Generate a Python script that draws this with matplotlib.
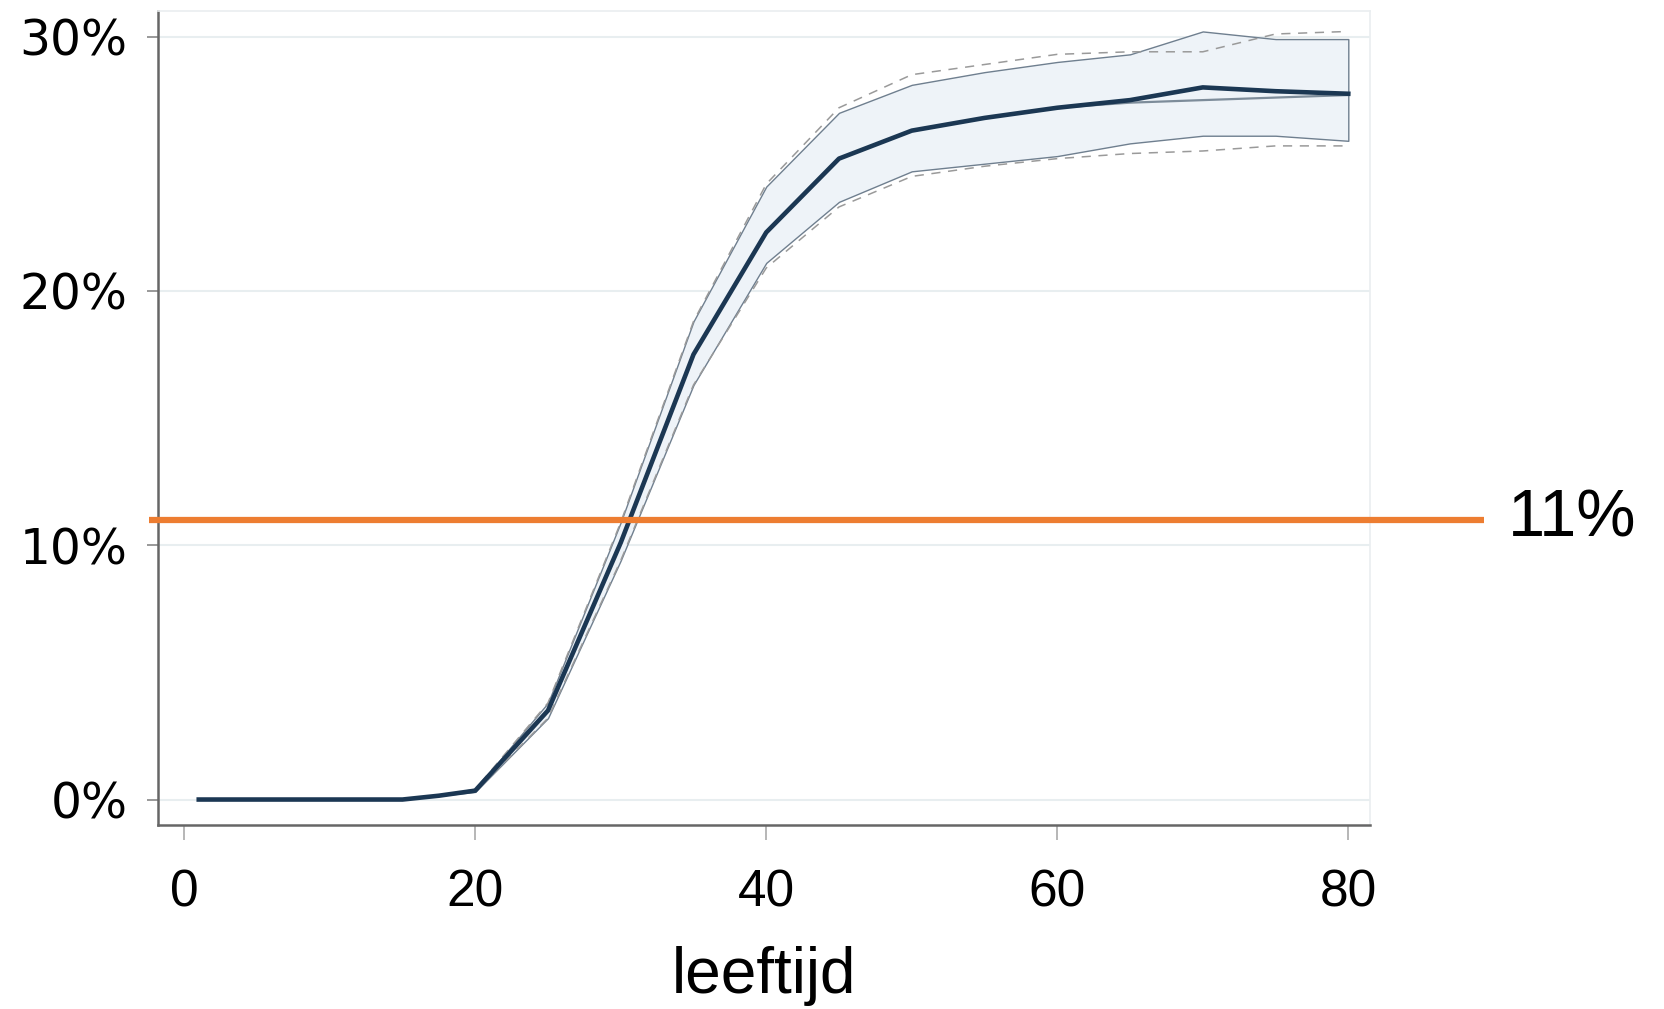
import matplotlib
matplotlib.use("Agg")
import matplotlib.pyplot as plt
from matplotlib.ticker import FuncFormatter

plt.rcParams['font.family'] = ['Liberation Sans', 'DejaVu Sans']

# leeftijd (jaren) en aandeel in procenten
ages = [1, 5, 10, 15, 17.5, 20, 25, 30, 35, 40, 45, 50, 55, 60, 65, 70, 75, 80]
mean = [0, 0, 0, 0, 0.15, 0.35, 3.5, 10.1, 17.5, 22.3, 25.2, 26.3, 26.8, 27.2, 27.5, 28.0, 27.85, 27.75]
upper = [0, 0, 0, 0, 0.15, 0.4, 3.8, 10.9, 18.8, 24.1, 27.0, 28.1, 28.6, 29.0, 29.3, 30.2, 29.9, 29.9]
lower = [0, 0, 0, 0, 0.15, 0.3, 3.2, 9.4, 16.3, 21.1, 23.5, 24.7, 25.0, 25.3, 25.8, 26.1, 26.1, 25.9]
alt_mean = [0, 0, 0, 0, 0.15, 0.35, 3.5, 10.1, 17.5, 22.3, 25.2, 26.3, 26.8, 27.2, 27.4, 27.5, 27.6, 27.7]
alt_upper = [0, 0, 0, 0, 0.15, 0.4, 3.8, 10.9, 18.8, 24.2, 27.2, 28.5, 28.9, 29.3, 29.4, 29.4, 30.1, 30.2]
alt_lower = [0, 0, 0, 0, 0.15, 0.3, 3.2, 9.4, 16.3, 20.9, 23.3, 24.5, 24.9, 25.2, 25.4, 25.5, 25.7, 25.7]

threshold = 11
threshold_label = '11%'
x_ticks = [0, 20, 40, 60, 80]
y_ticks = [0, 10, 20, 30]

fig = plt.figure(figsize=(16.65, 10.09), dpi=100)
ax = fig.add_axes([0.0949, 0.1824, 0.728, 0.8066])

# band and lines
ax.fill_between(ages, lower, upper, facecolor='#eef3f8', edgecolor='#6f7f8f', linewidth=1.0, zorder=2)
ax.plot(ages, alt_upper, color='#9a9a9a', linestyle=(0, (6, 5)), linewidth=1.1, zorder=3)
ax.plot(ages, alt_lower, color='#9a9a9a', linestyle=(0, (6, 5)), linewidth=1.1, zorder=3)
ax.plot(ages, alt_mean, color='#7d8c9a', linewidth=1.6, zorder=4)
ax.plot(ages, mean, color='#1b3753', linewidth=3.3, zorder=5)

# threshold line reaching past the plot area
ax.plot([-2.4, 89.3], [threshold, threshold], color='#ed7d31', linewidth=4.5,
        clip_on=False, zorder=6, solid_capstyle='butt')
ax.text(91.0, threshold, threshold_label, fontsize=48, va='center', ha='left', clip_on=False)

ax.set_xlim(-1.8, 81.5)
ax.set_ylim(-1.0, 31.0)
ax.set_xticks(x_ticks)
ax.set_yticks(y_ticks)
ax.yaxis.set_major_formatter(FuncFormatter(lambda v, p: f'{v:.0f}%'))

ax.grid(axis='y', color='#e8eef0', linewidth=1.5, zorder=0)
ax.set_axisbelow(True)

for side in ['left', 'bottom']:
    ax.spines[side].set_color('#666666')
    ax.spines[side].set_linewidth(1.8)
for side in ['top', 'right']:
    ax.spines[side].set_color('#eaeef0')
    ax.spines[side].set_linewidth(1.2)

ax.tick_params(axis='y', length=8, width=1.2, color='#888888', pad=14, labelsize=35)
ax.tick_params(axis='x', length=11, width=1.2, color='#aaaaaa', pad=20, labelsize=37)
for lbl in ax.get_yticklabels():
    lbl.set_fontfamily(['DejaVu Sans'])
ax.set_xlabel('leeftijd', fontsize=46, labelpad=21)

fig.savefig('out.png', dpi=100, facecolor='white')
